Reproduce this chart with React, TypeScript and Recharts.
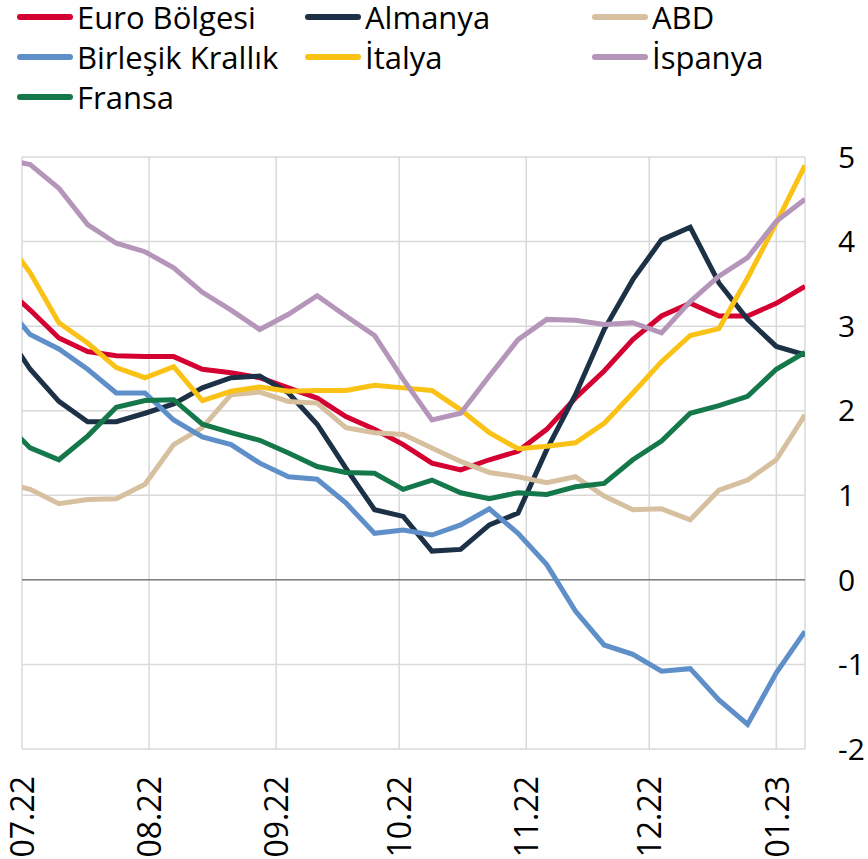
import { CartesianGrid, Line, LineChart, ReferenceLine, XAxis, YAxis } from 'recharts'

// weekly observations
const dates = [
  '2022-06-26', '2022-07-03', '2022-07-10', '2022-07-17', '2022-07-24', '2022-07-31',
  '2022-08-07', '2022-08-14', '2022-08-21', '2022-08-28', '2022-09-04', '2022-09-11',
  '2022-09-18', '2022-09-25', '2022-10-02', '2022-10-09', '2022-10-16', '2022-10-23',
  '2022-10-30', '2022-11-06', '2022-11-13', '2022-11-20', '2022-11-27', '2022-12-04',
  '2022-12-11', '2022-12-18', '2022-12-25', '2023-01-01', '2023-01-08',
]

const euroBolgesi = [3.5, 3.19, 2.86, 2.7, 2.65, 2.64, 2.64, 2.49, 2.45, 2.39, 2.27, 2.15, 1.93, 1.78, 1.6, 1.38, 1.3, 1.42, 1.52, 1.78, 2.15, 2.47, 2.84, 3.12, 3.27, 3.12, 3.12, 3.27, 3.47]
const almanya = [3.0, 2.49, 2.11, 1.87, 1.87, 1.97, 2.08, 2.27, 2.39, 2.41, 2.21, 1.84, 1.32, 0.83, 0.75, 0.34, 0.36, 0.65, 0.79, 1.54, 2.19, 2.96, 3.55, 4.02, 4.17, 3.51, 3.08, 2.76, 2.66]
const abd = [1.15, 1.07, 0.9, 0.95, 0.96, 1.13, 1.6, 1.8, 2.19, 2.22, 2.11, 2.09, 1.8, 1.74, 1.72, 1.56, 1.4, 1.27, 1.22, 1.15, 1.22, 0.99, 0.83, 0.84, 0.71, 1.06, 1.18, 1.42, 1.95]
const birlesikKrallik = [3.3, 2.9, 2.73, 2.49, 2.21, 2.21, 1.89, 1.69, 1.6, 1.38, 1.22, 1.19, 0.91, 0.55, 0.59, 0.53, 0.65, 0.84, 0.55, 0.18, -0.37, -0.77, -0.88, -1.08, -1.05, -1.42, -1.71, -1.1, -0.61]
const italya = [4.1, 3.63, 3.04, 2.8, 2.51, 2.39, 2.52, 2.12, 2.23, 2.28, 2.23, 2.24, 2.24, 2.3, 2.27, 2.24, 2.01, 1.74, 1.55, 1.58, 1.62, 1.85, 2.21, 2.58, 2.89, 2.97, 3.57, 4.22, 4.9]
const ispanya = [4.98, 4.91, 4.63, 4.2, 3.98, 3.88, 3.69, 3.4, 3.19, 2.96, 3.14, 3.36, 3.12, 2.89, 2.37, 1.89, 1.97, 2.41, 2.84, 3.08, 3.07, 3.02, 3.04, 2.92, 3.29, 3.59, 3.81, 4.24, 4.5]
const fransa = [1.9, 1.56, 1.42, 1.7, 2.04, 2.12, 2.13, 1.84, 1.74, 1.65, 1.5, 1.34, 1.27, 1.26, 1.07, 1.18, 1.03, 0.96, 1.03, 1.01, 1.1, 1.14, 1.42, 1.64, 1.97, 2.06, 2.17, 2.49, 2.69]

const monthTicks = ['2022-07-01', '2022-08-01', '2022-09-01', '2022-10-01', '2022-11-01', '2022-12-01', '2023-01-01']
const yTicks = [-2, -1, 0, 1, 2, 3, 4, 5]
const xStart = '2022-07-01'
const xEnd = '2023-01-08'

const series = [
  { key: 'euro', name: 'Euro Bölgesi', values: euroBolgesi, color: '#D50032' },
  { key: 'almanya', name: 'Almanya', values: almanya, color: '#1C3046' },
  { key: 'abd', name: 'ABD', values: abd, color: '#D6C09F' },
  { key: 'bk', name: 'Birleşik Krallık', values: birlesikKrallik, color: '#5F8FC9' },
  { key: 'italya', name: 'İtalya', values: italya, color: '#FBC216' },
  { key: 'ispanya', name: 'İspanya', values: ispanya, color: '#B596BA' },
  { key: 'fransa', name: 'Fransa', values: fransa, color: '#14784A' },
]

const data = dates.map((d, i) => {
  const row: Record<string, number> = { t: Date.parse(d) }
  series.forEach((s) => {
    row[s.key] = s.values[i]
  })
  return row
})

const FONT = '"Open Sans", sans-serif'

function monthLabel(t: number) {
  const d = new Date(t)
  const mm = String(d.getUTCMonth() + 1).padStart(2, '0')
  const yy = String(d.getUTCFullYear()).slice(2)
  return `${mm}.${yy}`
}

function RotatedTick({ x, y, payload }: { x?: number; y?: number; payload?: { value: number } }) {
  if (x == null || y == null || !payload) return null
  return (
    <g transform={`translate(${x + 1},${y + 19}) rotate(-90)`}>
      <text x={0} y={0} dy="0.35em" textAnchor="end" fontSize={32} fill="#000" fontFamily={FONT}>
        {monthLabel(payload.value)}
      </text>
    </g>
  )
}

function LegendBlock() {
  const cols = [17, 305, 592]
  const rows = [17, 57, 97]
  return (
    <div style={{ position: 'absolute', left: 0, top: 0, width: 868, height: 120, fontFamily: FONT }}>
      {series.map((s, i) => {
        const cx = cols[i % 3]
        const cy = rows[Math.floor(i / 3)]
        return (
          <div key={s.key}>
            <div
              style={{
                position: 'absolute',
                left: cx,
                top: cy - 3,
                width: 56,
                height: 6,
                borderRadius: 3,
                background: s.color,
              }}
            />
            <div
              style={{
                position: 'absolute',
                left: cx + 60,
                top: cy - 17,
                fontSize: 31,
                lineHeight: '34px',
                color: '#000',
                whiteSpace: 'nowrap',
              }}
            >
              {s.name}
            </div>
          </div>
        )
      })}
    </div>
  )
}

export default function App() {
  return (
    <div style={{ position: 'absolute', left: 0, top: 0, width: 868, height: 859, background: '#fff', overflow: 'hidden' }}>
      <LineChart width={868} height={859} data={data} margin={{ top: 157, right: 0, bottom: 0, left: 22 }}>
        <CartesianGrid stroke="#D9D9D9" strokeWidth={1.5} />
        <XAxis
          dataKey="t"
          type="number"
          domain={[Date.parse(xStart), Date.parse(xEnd)]}
          allowDataOverflow
          ticks={monthTicks.map((m) => Date.parse(m))}
          tick={<RotatedTick />}
          tickLine={false}
          axisLine={false}
          height={110}
          interval={0}
        />
        <YAxis
          orientation="right"
          type="number"
          domain={[-2, 5]}
          ticks={yTicks}
          allowDataOverflow
          axisLine={false}
          tickLine={false}
          tickMargin={27}
          width={63}
          interval={0}
          tick={{ fontSize: 30, fill: '#000', fontFamily: FONT }}
        />
        <ReferenceLine y={0} stroke="#7F7F7F" strokeWidth={1.5} />
        {series.map((s) => (
          <Line
            key={s.key}
            dataKey={s.key}
            name={s.name}
            type="linear"
            stroke={s.color}
            strokeWidth={5}
            dot={false}
            activeDot={false}
            isAnimationActive={false}
          />
        ))}
      </LineChart>
      <LegendBlock />
    </div>
  )
}
